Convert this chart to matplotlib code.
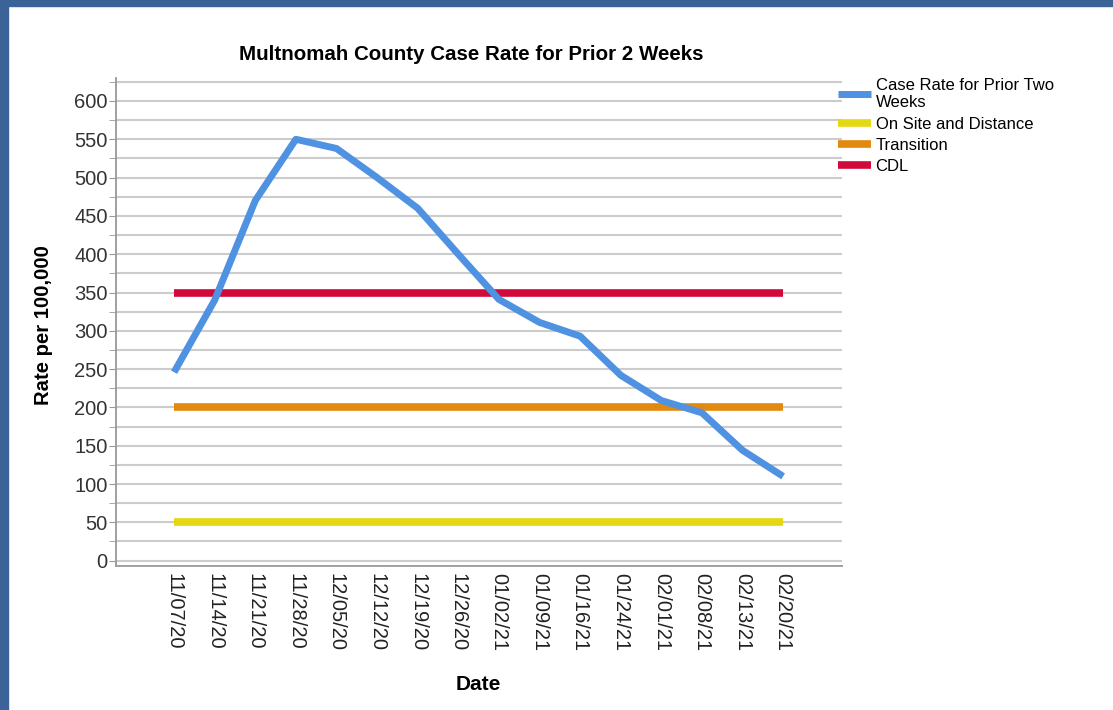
import numpy as np
import matplotlib
matplotlib.use("Agg")
import matplotlib.pyplot as plt
from matplotlib.patches import Rectangle

plt.rcParams['font.family'] = ['Liberation Sans', 'DejaVu Sans']

dates = ['11/07/20', '11/14/20', '11/21/20', '11/28/20', '12/05/20', '12/12/20',
         '12/19/20', '12/26/20', '01/02/21', '01/09/21', '01/16/21', '01/24/21',
         '02/01/21', '02/08/21', '02/13/21', '02/20/21']
case_rate = [246, 340, 470, 550, 538, 500, 460, 400, 341, 311, 293, 242,
             209, 193, 144, 110]
on_site = [50] * len(dates)
transition = [200] * len(dates)
cdl = [350] * len(dates)

fig = plt.figure(figsize=(11.13, 7.10), dpi=100)
fig.patches.append(Rectangle((0, 0), 8 / 1113, 1, transform=fig.transFigure,
                             color='#3b6397', zorder=0))
fig.patches.append(Rectangle((0, 1 - 6 / 710), 1, 6 / 710, transform=fig.transFigure,
                             color='#3b6397', zorder=0))

ax = fig.add_axes([116 / 1113, 1 - 566 / 710, (842 - 116) / 1113, (566 - 78) / 710])
x = np.arange(len(dates))

l1, = ax.plot(x, case_rate, color='#4f92e2', lw=5, solid_capstyle='butt', zorder=5)
l2, = ax.plot(x, on_site, color='#e3d812', lw=5.5, solid_capstyle='butt', zorder=4)
l3, = ax.plot(x, transition, color='#e2890f', lw=5.5, solid_capstyle='butt', zorder=4)
l4, = ax.plot(x, cdl, color='#d20a3c', lw=5.5, solid_capstyle='butt', zorder=4)

ax.set_xlim(-1.43, 16.45)
ax.set_ylim(-7, 630)
ax.set_yticks(np.arange(0, 601, 50))
ax.set_yticks(np.arange(25, 626, 50), minor=True)
ax.grid(True, axis='y', which='both', color='#cccccc', lw=1.5)
ax.set_axisbelow(True)
ax.set_xticks(x)
ax.set_xticklabels(dates, rotation=270, fontsize=14.5, color='#222222')
ax.tick_params(axis='x', length=0, pad=5)
ax.tick_params(axis='y', which='both', length=5, color='#999999', labelsize=14.5,
               labelcolor='#333333', pad=1)
for s in ['top', 'right']:
    ax.spines[s].set_visible(False)
for s in ['left', 'bottom']:
    ax.spines[s].set_color('#999999')
    ax.spines[s].set_linewidth(1.3)

fig.text(471 / 1113, 1 - 54 / 710, 'Multnomah County Case Rate for Prior 2 Weeks',
         ha='center', va='center', fontsize=14.8, fontweight='bold')
fig.text(478 / 1113, 1 - 684 / 710, 'Date', ha='center', va='center',
         fontsize=15, fontweight='bold')
fig.text(44 / 1113, 1 - 325 / 710, 'Rate per 100,000', ha='center', va='center',
         rotation=90, fontsize=14.6, fontweight='bold')

fig.legend([l1, l2, l3, l4],
           ['Case Rate for Prior Two\nWeeks', 'On Site and Distance', 'Transition', 'CDL'],
           loc='upper left', bbox_to_anchor=(838 / 1113, 1 - 78 / 710), frameon=False,
           fontsize=12, handlelength=2.0, handletextpad=0.25, labelspacing=0.37,
           borderaxespad=0, borderpad=0)

fig.savefig('out.png', dpi=100)
